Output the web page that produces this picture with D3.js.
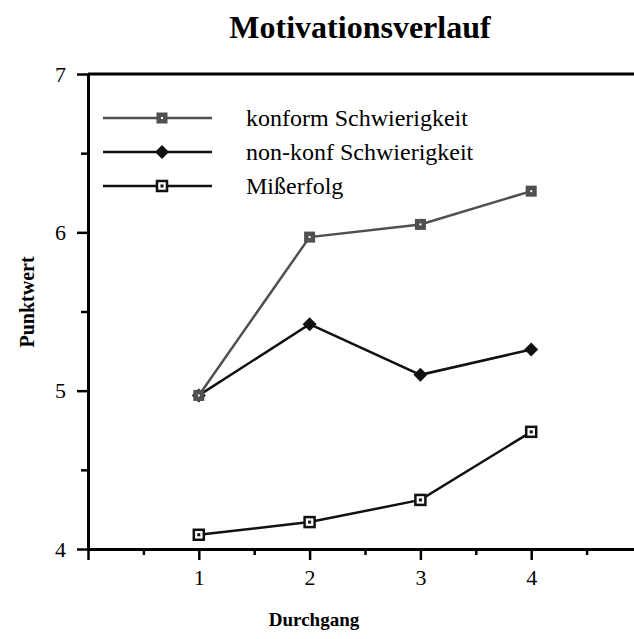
<!DOCTYPE html>
<meta charset="utf-8">
<style>
body { margin: 0; background: #fff; }
svg text { font-family: "Liberation Serif", "DejaVu Serif", serif; }
</style>
<body>
<svg id="chart" width="634" height="639"></svg>
</body>
<script src="https://d3js.org/d3.v7.min.js"></script>
<script>

// data
var durchgang = [1, 2, 3, 4];
var konform = [4.97, 5.97, 6.05, 6.26];
var nonKonf = [4.97, 5.42, 5.10, 5.26];
var misserfolg = [4.09, 4.17, 4.31, 4.74];
var seriesNames = ["konform Schwierigkeit", "non-konf Schwierigkeit", "Mißerfolg"];
var xTicks = [0, 1, 2, 3, 4];
var xMinor = [0.5, 1.5, 2.5, 3.5, 4.5];
var yTicks = [4, 5, 6, 7];
var yMinor = [4.5, 5.5, 6.5];

var serif = "'Liberation Serif', 'DejaVu Serif', serif";

var svg = d3.select("#chart");

var x = d3.scaleLinear().domain([0, 5]).range([88, 642]);
var y = d3.scaleLinear().domain([4, 7]).range([549, 74]);

var series = [
  {name: seriesNames[0], values: konform, color: "#505050", marker: "graysq"},
  {name: seriesNames[1], values: nonKonf, color: "#111", marker: "diamond"},
  {name: seriesNames[2], values: misserfolg, color: "#111", marker: "opensq"}
];

// title
svg.append("text")
    .attr("x", 360)
    .attr("y", 38)
    .attr("text-anchor", "middle")
    .style("font-family", serif)
    .style("font-size", "32px")
    .style("font-weight", "bold")
    .text("Motivationsverlauf");

// top frame line
svg.append("line")
    .attr("x1", x(0)).attr("x2", x(5))
    .attr("y1", y(7)).attr("y2", y(7))
    .attr("stroke", "#000").attr("stroke-width", 3);

// minor ticks
svg.append("g")
    .attr("transform", "translate(0," + y(4) + ")")
    .call(d3.axisBottom(x).tickValues(xMinor).tickSize(6).tickFormat(""))
    .call(function(g) { g.select(".domain").remove(); })
    .selectAll("line").attr("stroke-width", 2.5);

svg.append("g")
    .attr("transform", "translate(" + x(0) + ",0)")
    .call(d3.axisLeft(y).tickValues(yMinor).tickSize(7).tickFormat(""))
    .call(function(g) { g.select(".domain").remove(); })
    .selectAll("line").attr("stroke-width", 2.5);

// x axis
var xAxis = svg.append("g")
    .attr("transform", "translate(0," + y(4) + ")")
    .call(d3.axisBottom(x).tickValues(xTicks).tickSize(11).tickSizeOuter(0).tickPadding(9)
      .tickFormat(function(d) { return d === 0 ? "" : d3.format("d")(d); }));
xAxis.select(".domain").attr("stroke-width", 3);
xAxis.selectAll(".tick line").attr("stroke-width", 2.5);
xAxis.selectAll("text").style("font-family", serif).style("font-size", "22px").attr("fill", "#000");

// y axis
var yAxis = svg.append("g")
    .attr("transform", "translate(" + x(0) + ",0)")
    .call(d3.axisLeft(y).tickValues(yTicks).tickSize(11).tickSizeOuter(0).tickPadding(11)
      .tickFormat(d3.format("d")));
yAxis.select(".domain").attr("stroke-width", 3);
yAxis.selectAll(".tick line").attr("stroke-width", 2.5);
yAxis.selectAll("text").style("font-family", serif).style("font-size", "22px").attr("fill", "#000");

// axis titles
svg.append("text")
    .attr("x", 314)
    .attr("y", 626)
    .attr("text-anchor", "middle")
    .style("font-family", serif)
    .style("font-size", "19px")
    .style("font-weight", "bold")
    .text("Durchgang");

svg.append("text")
    .attr("transform", "translate(34,302) rotate(-90)")
    .attr("text-anchor", "middle")
    .style("font-family", serif)
    .style("font-size", "20px")
    .style("font-weight", "bold")
    .text("Punktwert");

var line = d3.line()
    .x(function(d, i) { return x(durchgang[i]); })
    .y(function(d) { return y(d); });

function drawMarker(g, type, color) {
  if (type === "graysq") {
    g.append("rect").attr("x", -5.5).attr("y", -5.5).attr("width", 11).attr("height", 11).attr("fill", color);
    g.append("rect").attr("x", -1).attr("y", -1).attr("width", 2).attr("height", 2).attr("fill", "#fff");
  } else if (type === "diamond") {
    g.append("path").attr("d", "M0,-7L7,0L0,7L-7,0Z").attr("fill", color);
  } else {
    g.append("rect").attr("x", -5).attr("y", -5).attr("width", 10).attr("height", 10)
      .attr("fill", "#fff").attr("stroke", color).attr("stroke-width", 2.5);
    g.append("rect").attr("x", -1.5).attr("y", -1.5).attr("width", 3).attr("height", 3).attr("fill", color);
  }
}

// lines + markers (reverse order so konform sits on top at point 1)
series.slice().reverse().forEach(function(s) {
  svg.append("path")
      .datum(s.values)
      .attr("fill", "none")
      .attr("stroke", s.color)
      .attr("stroke-width", 2.5)
      .attr("d", line);
  s.values.forEach(function(v, i) {
    var g = svg.append("g").attr("transform", "translate(" + x(durchgang[i]) + "," + y(v) + ")");
    drawMarker(g, s.marker, s.color);
  });
});

// legend
var legend = svg.selectAll(".legend")
    .data(series)
    .enter().append("g")
      .attr("class", "legend")
      .attr("transform", function(d, i) { return "translate(0," + [118, 152, 186][i] + ")"; });

legend.append("line")
    .attr("x1", 103).attr("x2", 212)
    .attr("stroke", function(d) { return d.color; })
    .attr("stroke-width", 2.5);

legend.each(function(d) {
  var g = d3.select(this).append("g").attr("transform", "translate(162,0)");
  drawMarker(g, d.marker, d.color);
});

legend.append("text")
    .attr("x", 246)
    .attr("dy", "0.33em")
    .style("font-family", serif)
    .style("font-size", "24px")
    .text(function(d) { return d.name; });

</script>
